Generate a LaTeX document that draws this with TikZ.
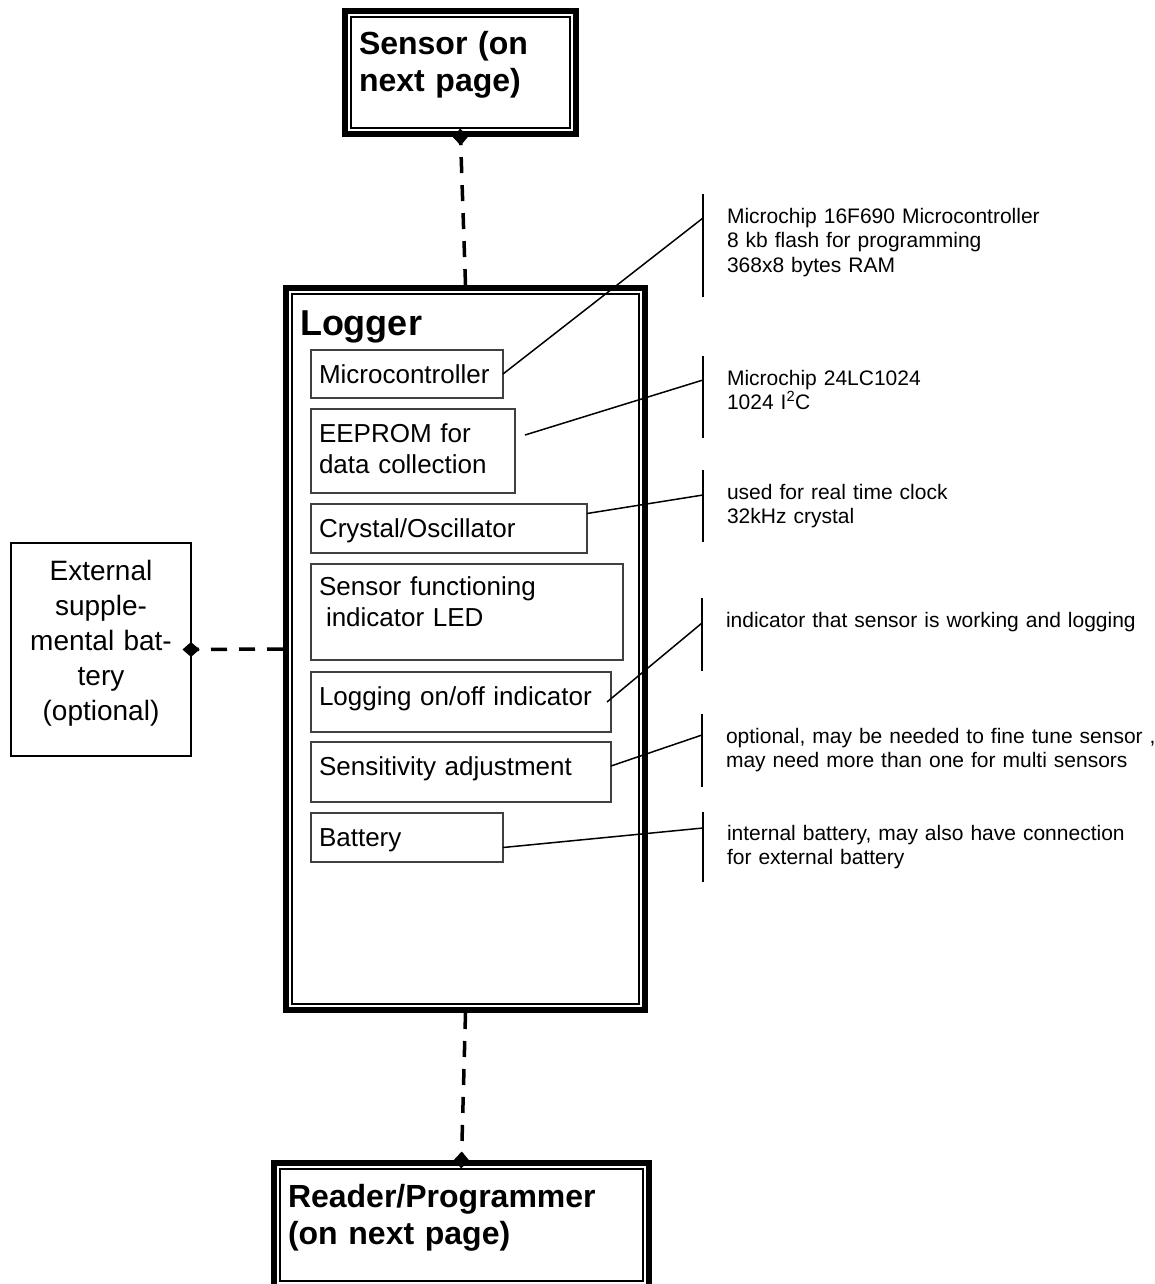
\documentclass[tikz,border=0pt]{standalone}
\usepackage{fontspec}
\setmainfont{Liberation Sans}
\usetikzlibrary{arrows.meta}

\begin{document}
\begin{tikzpicture}[x=1pt, y=-1pt,
	frame/.style={draw, line width=6pt, anchor=north west, align=left,
		inner xsep=14pt, inner ysep=0pt,
		font=\bfseries\fontsize{32}{37}\selectfont},
	inset/.style={line width=1.5pt},
	part/.style={draw=black!75, line width=1.2pt, anchor=north west,
		align=left, inner xsep=8pt, inner ysep=0pt, outer sep=0pt,
		text height=33pt, font=\fontsize{26}{31}\selectfont},
	note/.style={anchor=north west, align=left, text width=430pt,
		inner xsep=24pt, inner ysep=0pt, outer sep=0pt, text height=29pt,
		font=\fontsize{21}{24.5}\selectfont},
	bar/.style={line width=2pt},
	leader/.style={line width=1.5pt},
	link/.style={line width=3.5pt, dash pattern=on 16pt off 12pt,
		-{Diamond[length=17pt, width=15pt]}, shorten >=-8.5pt}]
	\useasboundingbox (0,0) rectangle (1155,1284);
	\clip (0,0) rectangle (1155,1284);

	% outer blocks
	\node (sensor) at (342,8) [frame, text width=203pt, text height=44pt,
		text depth=79pt] {Sensor (on\\next page)};
	\node (logger) at (283,285) [frame, text width=331pt, text height=47pt,
		text depth=675pt, font=\bfseries\fontsize{36}{42}\selectfont] {Logger};
	\node (reader) at (271,1160) [frame, text width=347pt, text height=44pt,
		text depth=80pt] {Reader/Programmer\\(on next page)};
	\node (ext) at (11,543) [draw, line width=2pt, anchor=north west,
		align=center, text width=172pt, inner xsep=4pt, inner ysep=0pt,
		outer sep=0pt, text height=37pt, text depth=176pt,
		font=\fontsize{28}{35}\selectfont]
		{External\\supple-\\mental bat-\\tery\\(optional)};
	\draw[inset] ([shift={(9pt,-9pt)}]sensor.north west) rectangle
		([shift={(-9pt,9pt)}]sensor.south east);
	\draw[inset] ([shift={(9pt,-9pt)}]logger.north west) rectangle
		([shift={(-9pt,9pt)}]logger.south east);
	\draw[inset] ([shift={(9pt,-9pt)}]reader.north west) rectangle
		([shift={(-9pt,9pt)}]reader.south east);

	% parts inside the logger
	\node (mc) at (311,350) [part, text width=176pt, text depth=15pt]
		{Microcontroller};
	\node (eeprom) at (311,409) [part, text width=188pt, text depth=51pt]
		{EEPROM for\\data collection};
	\node (xtal) at (311,504) [part, text width=260pt, text depth=16pt]
		{Crystal/Oscillator};
	\node (led) at (311,564) [part, text width=296pt, text height=31pt,
		text depth=65pt] {Sensor functioning\\\hspace*{7pt}indicator LED};
	\node (logsw) at (311,672) [part, text width=284pt, text depth=27pt]
		{Logging on/off indicator};
	\node (sens) at (311,742) [part, text width=284pt, text depth=27pt]
		{Sensitivity adjustment};
	\node (batt) at (311,813) [part, text width=176pt, text depth=16pt]
		{Battery};

	% notes
	\node (n1) at (703,194) [note, text depth=74pt]
		{Microchip 16F690 Microcontroller\\8 kb flash for programming\\368x8 bytes RAM};
	\node (n2) at (703,356) [note, text depth=53pt]
		{Microchip 24LC1024\\1024 I\textsuperscript{2}C};
	\node (n3) at (703,470) [note, text depth=43pt]
		{used for real time clock\\32kHz crystal};
	\node (n4) at (702,598) [note, text depth=44pt]
		{indicator that sensor is working and logging};
	\node (n5) at (702,714) [note, text depth=44pt]
		{optional, may be needed to fine tune sensor ,\\may need more than one for multi sensors};
	\node (n6) at (703,812) [note, text height=28pt, text depth=42pt]
		{internal battery, may also have connection\\for external battery};
	\draw[bar] (n1.north west) -- (n1.south west);
	\draw[bar] (n2.north west) -- (n2.south west);
	\draw[bar] (n3.north west) -- (n3.south west);
	\draw[bar] (n4.north west) -- (n4.south west);
	\draw[bar] (n5.north west) -- (n5.south west);
	\draw[bar] (n6.north west) -- (n6.south west);

	% leaders
	\draw[leader] (mc.east) -- ([yshift=-24pt]n1.north west);
	\draw[leader] ([xshift=10pt, yshift=16pt]eeprom.east) -- ([yshift=-24pt]n2.north west);
	\draw[leader] ([yshift=15pt]xtal.east) -- ([yshift=-25pt]n3.north west);
	\draw[leader] ([xshift=-4pt]logsw.east) -- ([yshift=-25pt]n4.north west);
	\draw[leader] ([yshift=6pt]sens.east) -- ([yshift=-21pt]n5.north west);
	\draw[leader] ([yshift=-10pt]batt.east) -- ([yshift=-16pt]n6.north west);

	% links
	\draw[link] (logger.north) -- (sensor.south);
	\draw[link] (logger.south) -- (reader.north);
	\draw[link] (logger.west) -- (ext.east);
\end{tikzpicture}
\end{document}
